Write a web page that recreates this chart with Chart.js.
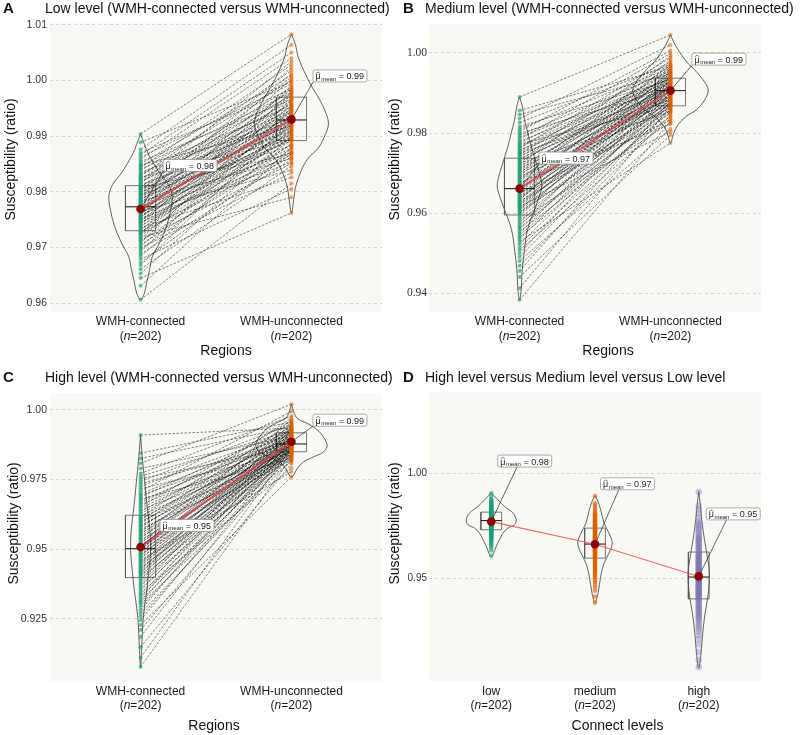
<!DOCTYPE html>
<html>
<head>
<meta charset="utf-8">
<script src="https://cdn.jsdelivr.net/npm/chart.js@4.4.0/dist/chart.umd.min.js"></script>
<style>
  body { margin: 0; background: #fff; }
  #wrap { position: relative; width: 800px; height: 735px; }
  canvas { position: absolute; }
</style>
</head>
<body>
<div id="wrap">
  <canvas id="cA" width="400" height="367" style="left:0;top:0"></canvas>
  <canvas id="cB" width="420" height="367" style="left:380px;top:0"></canvas>
  <canvas id="cC" width="400" height="368" style="left:0;top:367px"></canvas>
  <canvas id="cD" width="420" height="368" style="left:380px;top:367px"></canvas>
</div>
<script>
  // категории
  var regionCats = ['WMH-connected', 'WMH-unconnected'];
  var levelCats = ['low', 'medium', 'high'];
  var nPerGroup = 202;

  // low level: connected / unconnected (paired)
  var lowConn = [
    0.9606, 0.9631, 0.9645, 0.9653, 0.9661, 0.9668, 0.9673, 0.9679, 0.9684, 0.9688,
    0.9692, 0.9696, 0.9699, 0.9702, 0.9705, 0.9708, 0.9711, 0.9713, 0.9716, 0.9718,
    0.9721, 0.9723, 0.9725, 0.9727, 0.9729, 0.9731, 0.9733, 0.9735, 0.9737, 0.9739,
    0.9741, 0.9743, 0.9745, 0.9747, 0.9748, 0.9750, 0.9752, 0.9753, 0.9755, 0.9756,
    0.9758, 0.9759, 0.9761, 0.9762, 0.9764, 0.9765, 0.9767, 0.9768, 0.9770, 0.9772,
    0.9774, 0.9776, 0.9777, 0.9779, 0.9780, 0.9782, 0.9783, 0.9785, 0.9786, 0.9788,
    0.9789, 0.9791, 0.9792, 0.9794, 0.9795, 0.9797, 0.9798, 0.9800, 0.9801, 0.9803,
    0.9804, 0.9806, 0.9807, 0.9809, 0.9810, 0.9813, 0.9815, 0.9817, 0.9820, 0.9822,
    0.9824, 0.9826, 0.9828, 0.9830, 0.9832, 0.9835, 0.9838, 0.9841, 0.9843, 0.9846,
    0.9848, 0.9850, 0.9854, 0.9858, 0.9862, 0.9866, 0.9870, 0.9876, 0.9889, 0.9904
  ];
  var lowUnconn = [
    0.9815, 0.9880, 0.9762, 0.9901, 0.9846, 0.9928, 0.9869, 0.9805, 0.9912, 0.9858,
    0.9950, 0.9887, 0.9834, 0.9921, 0.9872, 0.9966, 0.9893, 0.9851, 0.9938, 0.9790,
    0.9904, 0.9980, 0.9876, 0.9917, 0.9862, 0.9945, 0.9898, 0.9826, 0.9930, 0.9884,
    0.9991, 0.9908, 0.9866, 0.9955, 0.9895, 0.9924, 0.9853, 0.9974, 0.9910, 0.9940,
    0.9878, 1.0003, 0.9919, 0.9896, 0.9961, 0.9839, 0.9934, 0.9905, 0.9986, 0.9926,
    0.9871, 0.9948, 0.9913, 1.0013, 0.9899, 0.9937, 0.9860, 0.9969, 0.9923, 0.9891,
    0.9952, 1.0023, 0.9915, 0.9942, 0.9883, 0.9976, 0.9930, 0.9902, 0.9958, 1.0006,
    0.9920, 0.9944, 0.9868, 0.9982, 0.9935, 0.9909, 1.0034, 0.9963, 0.9927, 0.9988,
    0.9947, 0.9894, 1.0018, 0.9957, 0.9972, 0.9932, 1.0000, 0.9953, 1.0028, 0.9978,
    0.9918, 1.0009, 0.9966, 1.0040, 0.9994, 1.0050, 0.9984, 1.0064, 0.9997, 1.0083
  ];

  // medium level
  var medConn = [
    0.9383, 0.9412, 0.9440, 0.9455, 0.9468, 0.9480, 0.9490, 0.9499, 0.9507, 0.9514,
    0.9522, 0.9528, 0.9534, 0.9539, 0.9544, 0.9549, 0.9554, 0.9559, 0.9563, 0.9567,
    0.9572, 0.9577, 0.9582, 0.9587, 0.9592, 0.9598, 0.9600, 0.9603, 0.9606, 0.9608,
    0.9611, 0.9614, 0.9616, 0.9619, 0.9621, 0.9624, 0.9627, 0.9629, 0.9632, 0.9635,
    0.9637, 0.9640, 0.9642, 0.9645, 0.9648, 0.9650, 0.9653, 0.9655, 0.9658, 0.9660,
    0.9664, 0.9667, 0.9670, 0.9673, 0.9676, 0.9679, 0.9682, 0.9685, 0.9688, 0.9691,
    0.9694, 0.9697, 0.9700, 0.9703, 0.9706, 0.9709, 0.9712, 0.9715, 0.9718, 0.9721,
    0.9724, 0.9727, 0.9730, 0.9733, 0.9736, 0.9740, 0.9743, 0.9746, 0.9749, 0.9752,
    0.9755, 0.9758, 0.9762, 0.9765, 0.9768, 0.9772, 0.9775, 0.9779, 0.9784, 0.9789,
    0.9794, 0.9799, 0.9804, 0.9810, 0.9816, 0.9826, 0.9836, 0.9846, 0.9856, 0.9890
  ];
  var medUnconn = [
    0.9828, 0.9866, 0.9795, 0.9880, 0.9845, 0.9810, 0.9872, 0.9901, 0.9836, 0.9858,
    0.9889, 0.9775, 0.9912, 0.9852, 0.9877, 0.9924, 0.9842, 0.9895, 0.9869, 0.9934,
    0.9860, 0.9907, 0.9826, 0.9884, 0.9945, 0.9874, 0.9917, 0.9850, 0.9898, 0.9957,
    0.9881, 0.9921, 0.9803, 0.9904, 0.9939, 0.9871, 0.9913, 0.9856, 0.9966, 0.9893,
    0.9927, 0.9864, 0.9908, 0.9949, 0.9887, 0.9833, 0.9918, 0.9975, 0.9896, 0.9930,
    0.9875, 0.9914, 0.9953, 0.9899, 0.9822, 0.9928, 0.9983, 0.9890, 0.9919, 0.9862,
    0.9941, 0.9905, 0.9969, 0.9878, 0.9922, 0.9947, 0.9886, 0.9931, 0.9909, 0.9993,
    0.9854, 0.9935, 0.9916, 0.9958, 0.9892, 0.9943, 0.9911, 0.9978, 0.9883, 0.9926,
    0.9951, 0.9902, 0.9988, 0.9923, 0.9937, 0.9867, 0.9960, 0.9929, 0.9999, 0.9936,
    0.9955, 0.9910, 1.0006, 0.9963, 0.9933, 0.9972, 1.0020, 0.9948, 0.9966, 1.0045
  ];

  // high level
  var highConn = [
    0.9077, 0.9110, 0.9148, 0.9185, 0.9210, 0.9228, 0.9245, 0.9258, 0.9270, 0.9281,
    0.9292, 0.9302, 0.9309, 0.9316, 0.9323, 0.9330, 0.9337, 0.9344, 0.9351, 0.9358,
    0.9365, 0.9372, 0.9379, 0.9386, 0.9393, 0.9400, 0.9404, 0.9408, 0.9413, 0.9417,
    0.9421, 0.9426, 0.9430, 0.9434, 0.9439, 0.9443, 0.9447, 0.9452, 0.9456, 0.9460,
    0.9465, 0.9469, 0.9473, 0.9478, 0.9482, 0.9486, 0.9491, 0.9495, 0.9498, 0.9501,
    0.9505, 0.9510, 0.9515, 0.9520, 0.9524, 0.9529, 0.9534, 0.9539, 0.9543, 0.9548,
    0.9553, 0.9558, 0.9563, 0.9567, 0.9572, 0.9577, 0.9582, 0.9586, 0.9591, 0.9596,
    0.9601, 0.9606, 0.9610, 0.9615, 0.9620, 0.9628, 0.9635, 0.9641, 0.9648, 0.9654,
    0.9661, 0.9667, 0.9674, 0.9680, 0.9687, 0.9693, 0.9699, 0.9708, 0.9717, 0.9726,
    0.9735, 0.9744, 0.9753, 0.9762, 0.9772, 0.9790, 0.9808, 0.9826, 0.9845, 0.9910
  ];
  var highUnconn = [
    0.9829, 0.9866, 0.9807, 0.9881, 0.9846, 0.9760, 0.9894, 0.9857, 0.9835, 0.9910,
    0.9869, 0.9818, 0.9887, 0.9852, 0.9925, 0.9841, 0.9874, 0.9792, 0.9898, 0.9860,
    0.9933, 0.9838, 0.9879, 0.9905, 0.9853, 0.9815, 0.9889, 0.9863, 0.9942, 0.9844,
    0.9884, 0.9913, 0.9856, 0.9827, 0.9895, 0.9867, 0.9928, 0.9848, 0.9877, 0.9778,
    0.9903, 0.9861, 0.9951, 0.9882, 0.9836, 0.9916, 0.9870, 0.9854, 0.9936, 0.9890,
    0.9843, 0.9906, 0.9872, 0.9965, 0.9858, 0.9897, 0.9821, 0.9922, 0.9868, 0.9886,
    0.9945, 0.9849, 0.9911, 0.9875, 0.9831, 0.9930, 0.9892, 0.9862, 0.9954, 0.9900,
    0.9840, 0.9917, 0.9879, 0.9971, 0.9864, 0.9908, 0.9933, 0.9851, 0.9895, 0.9960,
    0.9871, 0.9920, 0.9902, 0.9824, 0.9938, 0.9885, 0.9914, 0.9995, 0.9847, 0.9923,
    0.9889, 0.9948, 0.9866, 0.9927, 0.9978, 0.9906, 1.0021, 0.9939, 0.9957, 0.9935
  ];

  // средние
  var lowMeans = [0.9769, 0.9930];
  var medMeans = [0.9661, 0.9906];
  var highMeans = [0.9508, 0.9886];
  var levelMeans = [0.9769, 0.9661, 0.9508];

  // boxplot: [q1, median, q3]
  var lowBoxes = [[0.9730, 0.9773, 0.9811], [0.9892, 0.9929, 0.9970]];
  var medBoxes = [[0.9595, 0.9661, 0.9737], [0.9868, 0.9906, 0.9937]];
  var highBoxes = [[0.9398, 0.9502, 0.9622], [0.9850, 0.9878, 0.9918]];
  var levelBoxes = [[0.9730, 0.9774, 0.9814], [0.9595, 0.9662, 0.9738], [0.9401, 0.9505, 0.9624]];

  // violin outlines: value (top -> bottom) and half width (category units)
  var lowConnVioY = [0.9904, 0.9885, 0.9867, 0.9834, 0.9813, 0.9792, 0.9768, 0.9738, 0.9708, 0.9684, 0.9660, 0.9636, 0.9618, 0.9606];
  var lowConnVioW = [0, 0.026, 0.053, 0.126, 0.185, 0.21, 0.2, 0.172, 0.126, 0.079, 0.06, 0.04, 0.026, 0];
  var lowUnconnVioY = [1.0083, 1.0065, 1.0041, 1.0011, 0.9987, 0.9963, 0.9939, 0.9921, 0.9903, 0.9879, 0.9861, 0.9843, 0.9825, 0.9807, 0.9790, 0.9762];
  var lowUnconnVioW = [0, 0.026, 0.046, 0.093, 0.139, 0.192, 0.232, 0.245, 0.225, 0.179, 0.113, 0.073, 0.046, 0.026, 0.017, 0];
  var medConnVioY = [0.9890, 0.9867, 0.9833, 0.9800, 0.9767, 0.9725, 0.9692, 0.9667, 0.9642, 0.9608, 0.9575, 0.9542, 0.9508, 0.9475, 0.9442, 0.9408, 0.9383];
  var medConnVioW = [0, 0.018, 0.033, 0.055, 0.077, 0.111, 0.137, 0.148, 0.132, 0.099, 0.066, 0.044, 0.033, 0.022, 0.015, 0.011, 0];
  var medUnconnVioY = [1.0045, 1.0025, 1.0008, 0.9978, 0.9962, 0.9933, 0.9908, 0.9883, 0.9858, 0.9842, 0.9821, 0.9800, 0.9775];
  var medUnconnVioW = [0, 0.025, 0.051, 0.106, 0.15, 0.216, 0.25, 0.227, 0.172, 0.106, 0.051, 0.022, 0];
  var highConnVioY = [0.9910, 0.9832, 0.9772, 0.9712, 0.9652, 0.9568, 0.9496, 0.9424, 0.9364, 0.9292, 0.9233, 0.9161, 0.9077];
  var highConnVioW = [0, 0.011, 0.022, 0.033, 0.044, 0.062, 0.066, 0.055, 0.044, 0.026, 0.015, 0.009, 0];
  var highUnconnVioY = [1.0021, 0.9994, 0.9970, 0.9952, 0.9934, 0.9910, 0.9874, 0.9850, 0.9832, 0.9814, 0.9790, 0.9766, 0.9760];
  var highUnconnVioW = [0, 0.015, 0.038, 0.104, 0.159, 0.203, 0.236, 0.214, 0.148, 0.081, 0.038, 0.015, 0];
  var levelLowVioY = [0.9905, 0.9873, 0.9841, 0.9810, 0.9778, 0.9754, 0.9738, 0.9714, 0.9683, 0.9651, 0.9611, 0.9603];
  var levelLowVioW = [0, 0.064, 0.128, 0.209, 0.24, 0.224, 0.161, 0.113, 0.08, 0.048, 0.016, 0];
  var levelMedVioY = [0.9892, 0.9873, 0.9825, 0.9762, 0.9714, 0.9667, 0.9619, 0.9571, 0.9508, 0.9429, 0.9384];
  var levelMedVioW = [0, 0.022, 0.055, 0.087, 0.135, 0.166, 0.135, 0.087, 0.055, 0.029, 0];
  var levelHighVioY = [0.9913, 0.9857, 0.9778, 0.9683, 0.9587, 0.9524, 0.9429, 0.9333, 0.9238, 0.9143, 0.9071];
  var levelHighVioW = [0, 0.013, 0.029, 0.055, 0.087, 0.103, 0.093, 0.061, 0.038, 0.022, 0];

  // ticks
  var lowTicks = [0.96, 0.97, 0.98, 0.99, 1.00, 1.01];
  var lowTickLabels = ['0.96', '0.97', '0.98', '0.99', '1.00', '1.01'];
  var medTicks = [0.94, 0.96, 0.98, 1.00];
  var medTickLabels = ['0.94', '0.96', '0.98', '1.00'];
  var highTicks = [0.925, 0.95, 0.975, 1.00];
  var highTickLabels = ['0.925', '0.95', '0.975', '1.00'];
  var levelTicks = [0.95, 1.00];
  var levelTickLabels = ['0.95', '1.00'];

  var SANS = '"Liberation Sans", Arial, Helvetica, sans-serif';
  var SERIF = '"Liberation Serif", "Times New Roman", serif';
  var GREEN = 'rgba(27,158,119,0.6)';
  var ORANGE = 'rgba(217,95,2,0.55)';
  var PURPLE = 'rgba(117,112,179,0.35)';

  var panelSpecs = {};

  function violinPoints(c, ys, ws) {
    var pts = [];
    for (var i = 0; i < ys.length; i++) pts.push({ x: c + ws[i], y: ys[i] });
    for (var j = ys.length - 2; j >= 0; j--) pts.push({ x: c - ws[j], y: ys[j] });
    return pts;
  }

  function pairPoints(a, b) {
    var pts = [];
    for (var i = 0; i < a.length; i++) {
      pts.push({ x: 1, y: a[i] }, { x: 2, y: b[i] }, { x: 1.5, y: null });
    }
    return pts;
  }

  function drawN(ctx, cx, y, n) {
    var a = '(', b = 'n', c = '=' + n + ')';
    ctx.font = '12px ' + SANS;
    var wa = ctx.measureText(a).width, wc = ctx.measureText(c).width;
    ctx.font = 'italic 12px ' + SANS;
    var wb = ctx.measureText(b).width;
    var x0 = cx - (wa + wb + wc) / 2;
    ctx.textAlign = 'left';
    ctx.font = '12px ' + SANS;
    ctx.fillText(a, x0, y);
    ctx.font = 'italic 12px ' + SANS;
    ctx.fillText(b, x0 + wa, y);
    ctx.font = '12px ' + SANS;
    ctx.fillText(c, x0 + wa + wb, y);
  }

  function drawMeanLabel(ctx, px, py, m, pos) {
    var t1 = 'μ', t2 = 'mean', t3 = ' = ' + m.toFixed(2);
    ctx.font = '9px ' + SANS;
    var w1 = ctx.measureText(t1).width, w3 = ctx.measureText(t3).width;
    ctx.font = '6px ' + SANS;
    var w2 = ctx.measureText(t2).width;
    var bw = w1 + w2 + w3 + 6, bh = 12;
    var bx = px + pos.dx, by = py + pos.dy;
    // линия к точке
    var ax = bx + pos.ax, ay = by + bh;
    var dx = px - ax, dy = py - ay, len = Math.sqrt(dx * dx + dy * dy);
    ctx.save();
    ctx.strokeStyle = '#222';
    ctx.lineWidth = 0.7;
    ctx.beginPath();
    ctx.moveTo(ax, ay);
    ctx.lineTo(px - dx / len * 3.5, py - dy / len * 3.5);
    ctx.stroke();
    ctx.fillStyle = '#fff';
    ctx.strokeStyle = '#8a8a8a';
    ctx.lineWidth = 0.7;
    ctx.beginPath();
    if (ctx.roundRect) ctx.roundRect(bx + 0.5, by + 0.5, bw, bh, 2);
    else ctx.rect(bx + 0.5, by + 0.5, bw, bh);
    ctx.fill();
    ctx.stroke();
    ctx.fillStyle = '#222';
    ctx.textAlign = 'left';
    ctx.textBaseline = 'alphabetic';
    ctx.font = '9px ' + SANS;
    ctx.fillText(t1, bx + 3, by + 10);
    // шляпка над μ
    ctx.strokeStyle = '#333';
    ctx.lineWidth = 0.6;
    ctx.beginPath();
    ctx.moveTo(bx + 3.3, by + 4.2);
    ctx.lineTo(bx + 3 + w1 / 2, by + 2.6);
    ctx.lineTo(bx + 2.7 + w1, by + 4.2);
    ctx.stroke();
    ctx.font = '6px ' + SANS;
    ctx.fillText(t2, bx + 3.5 + w1, by + 11.5);
    ctx.font = '9px ' + SANS;
    ctx.fillText(t3, bx + 3.5 + w1 + w2, by + 10);
    ctx.restore();
  }

  var panelDecor = {
    id: 'panelDecor',
    beforeDraw: function (chart) {
      var a = chart.chartArea, ctx = chart.ctx;
      ctx.save();
      ctx.fillStyle = '#f9f8f3';
      ctx.fillRect(a.left, a.top, a.right - a.left, a.bottom - a.top);
      ctx.restore();
    },
    afterDatasetsDraw: function (chart) {
      var p = panelSpecs[chart.canvas.id];
      if (!p) return;
      var xs = chart.scales.x, ys = chart.scales.y;
      for (var i = 0; i < p.means.length; i++) {
        drawMeanLabel(chart.ctx, xs.getPixelForValue(i + 1), ys.getPixelForValue(p.means[i]), p.means[i], p.labelPos[i]);
      }
    },
    afterDraw: function (chart) {
      var p = panelSpecs[chart.canvas.id];
      if (!p) return;
      var ctx = chart.ctx, xs = chart.scales.x;
      ctx.save();
      ctx.fillStyle = '#111';
      ctx.textBaseline = 'middle';
      ctx.textAlign = 'left';
      ctx.font = 'bold 15px ' + SANS;
      ctx.fillText(p.letter, p.letterX, p.titleY);
      ctx.font = '14px ' + SANS;
      ctx.fillText(p.title, p.titleX, p.titleY);
      // y title
      ctx.save();
      ctx.translate(p.yTitleX, p.yTitleY);
      ctx.rotate(-Math.PI / 2);
      ctx.textAlign = 'center';
      ctx.fillText('Susceptibility (ratio)', 0, 0);
      ctx.restore();
      // категории
      ctx.fillStyle = '#1a1a1a';
      for (var i = 0; i < p.cats.length; i++) {
        var px = xs.getPixelForValue(i + 1);
        ctx.font = '12px ' + SANS;
        ctx.textAlign = 'center';
        ctx.fillText(p.cats[i], px, p.catY1);
        drawN(ctx, px, p.catY2, nPerGroup);
      }
      ctx.fillStyle = '#111';
      ctx.font = '14px ' + SANS;
      ctx.textAlign = 'center';
      ctx.fillText(p.xTitle, p.xTitleX, p.xTitleY);
      ctx.restore();
    }
  };
  Chart.register(panelDecor);

  function makePanel(id, p) {
    panelSpecs[id] = p;
    var ds = [];
    var boxHalf = p.boxHalf;
    for (var i = 0; i < p.cats.length; i++) {
      var c = i + 1;
      ds.push({
        data: violinPoints(c, p.vioY[i], p.vioW[i]),
        showLine: true, borderColor: '#1f1f1f', borderWidth: 0.7,
        pointRadius: 0, tension: 0.35, fill: false, order: 60
      });
      var b = p.boxes[i];
      ds.push({
        data: [
          { x: c - boxHalf, y: b[0] }, { x: c + boxHalf, y: b[0] },
          { x: c + boxHalf, y: b[2] }, { x: c - boxHalf, y: b[2] }, { x: c - boxHalf, y: b[0] }
        ],
        showLine: true, borderColor: '#555', borderWidth: 0.8,
        pointRadius: 0, tension: 0, fill: false, order: 55
      });
      ds.push({
        data: [{ x: c - boxHalf, y: b[1] }, { x: c + boxHalf, y: b[1] }],
        showLine: true, borderColor: '#222', borderWidth: 1.1,
        pointRadius: 0, order: 54
      });
      ds.push({
        data: p.groups[i].map(function (v) { return { x: c, y: v }; }),
        showLine: false, pointRadius: p.dotRadius[i], pointBorderWidth: 0,
        pointBackgroundColor: p.dotColors[i], order: 30
      });
    }
    if (p.pairs) {
      ds.push({
        data: pairPoints(p.groups[0], p.groups[1]),
        showLine: true, spanGaps: false, borderColor: 'rgba(0,0,0,0.8)',
        borderWidth: 0.6, borderDash: [2.5, 1.5], pointRadius: 0, order: 40
      });
    }
    var meanPts = p.means.map(function (m, k) { return { x: k + 1, y: m }; });
    ds.push({
      data: meanPts, showLine: true, borderColor: p.meanLineColor,
      borderWidth: p.meanLineWidth, pointRadius: 0, order: 20
    });
    ds.push({
      data: meanPts, showLine: false, pointRadius: 4.3,
      pointBackgroundColor: '#8b0000', pointBorderColor: '#8b0000', pointBorderWidth: 0, order: 10
    });

    return new Chart(document.getElementById(id), {
      type: 'scatter',
      data: { datasets: ds },
      options: {
        animation: false,
        responsive: false,
        devicePixelRatio: 1,
        layout: { padding: p.pad },
        plugins: { legend: { display: false }, tooltip: { enabled: false } },
        scales: {
          x: { type: 'linear', display: false, min: p.xMin, max: p.xMax },
          y: {
            type: 'linear', min: p.yMin, max: p.yMax,
            afterBuildTicks: function (s) {
              s.ticks = p.ticks.map(function (v) { return { value: v }; });
            },
            afterFit: function (s) { s.width = p.yWidth; },
            ticks: {
              padding: p.tickPad, autoSkip: false, color: '#333', font: p.tickFont,
              callback: function (v, idx) { return p.tickLabels[idx]; }
            },
            grid: { color: '#c9c9c9', lineWidth: 0.8, drawTicks: false },
            border: { display: false, dash: [3, 3] }
          }
        }
      }
    });
  }

  var sansTick = { family: SANS, size: 10.5 };

  makePanel('cA', {
    letter: 'A', letterX: 3, title: 'Low level (WMH-connected versus WMH-unconnected)',
    titleX: 45, titleY: 9, yTitleX: 11, yTitleY: 159.5,
    cats: regionCats, catY1: 322, catY2: 337, xTitle: 'Regions', xTitleX: 226, xTitleY: 351,
    groups: [lowConn, lowUnconn], pairs: true, means: lowMeans, boxes: lowBoxes,
    vioY: [lowConnVioY, lowUnconnVioY], vioW: [lowConnVioW, lowUnconnVioW],
    dotColors: [GREEN, ORANGE], dotRadius: [2, 2],
    meanLineColor: 'rgba(212,70,70,0.75)', meanLineWidth: 2.2,
    labelPos: [{ dx: 22, dy: -50, ax: 1 }, { dx: 21, dy: -50, ax: 1 }],
    ticks: lowTicks, tickLabels: lowTickLabels, tickFont: sansTick, tickPad: 3,
    xMin: 0.4, xMax: 2.6, yMin: 0.9584, yMax: 1.0105, boxHalf: 0.1,
    pad: { left: 0, right: 18, top: 22, bottom: 55 }, yWidth: 50
  });

  makePanel('cB', {
    letter: 'B', letterX: 23, title: 'Medium level (WMH-connected versus WMH-unconnected)',
    titleX: 45, titleY: 9, yTitleX: 15, yTitleY: 159.5,
    cats: regionCats, catY1: 322, catY2: 337, xTitle: 'Regions', xTitleX: 228, xTitleY: 351,
    groups: [medConn, medUnconn], pairs: true, means: medMeans, boxes: medBoxes,
    vioY: [medConnVioY, medUnconnVioY], vioW: [medConnVioW, medUnconnVioW],
    dotColors: [GREEN, ORANGE], dotRadius: [2, 2],
    meanLineColor: 'rgba(212,70,70,0.75)', meanLineWidth: 2.2,
    labelPos: [{ dx: 19, dy: -37, ax: 1 }, { dx: 21, dy: -38, ax: 1 }],
    ticks: medTicks, tickLabels: medTickLabels, tickFont: { family: SERIF, size: 11.5 }, tickPad: 2,
    xMin: 0.4, xMax: 2.6, yMin: 0.93525, yMax: 1.00725, boxHalf: 0.1,
    pad: { left: 0, right: 39, top: 24, bottom: 55 }, yWidth: 49
  });

  makePanel('cC', {
    letter: 'C', letterX: 3, title: 'High level (WMH-connected versus WMH-unconnected)',
    titleX: 45, titleY: 11, yTitleX: 14, yTitleY: 156.5,
    cats: regionCats, catY1: 324.5, catY2: 338.5, xTitle: 'Regions', xTitleX: 214, xTitleY: 359,
    groups: [highConn, highUnconn], pairs: true, means: highMeans, boxes: highBoxes,
    vioY: [highConnVioY, highUnconnVioY], vioW: [highConnVioW, highUnconnVioW],
    dotColors: [GREEN, ORANGE], dotRadius: [2, 2],
    meanLineColor: 'rgba(212,70,70,0.75)', meanLineWidth: 2.2,
    labelPos: [{ dx: 19, dy: -28, ax: 1 }, { dx: 21, dy: -28, ax: 1 }],
    ticks: highTicks, tickLabels: highTickLabels, tickFont: sansTick, tickPad: 3,
    xMin: 0.4, xMax: 2.6, yMin: 0.9023, yMax: 1.0061, boxHalf: 0.1,
    pad: { left: 0, right: 18, top: 26, bottom: 53 }, yWidth: 50
  });

  makePanel('cD', {
    letter: 'D', letterX: 23, title: 'High level versus Medium level versus Low level',
    titleX: 45, titleY: 11, yTitleX: 15, yTitleY: 156.5,
    cats: levelCats, catY1: 324.5, catY2: 338.5, xTitle: 'Connect levels', xTitleX: 237.5, xTitleY: 359,
    groups: [lowConn, medConn, highConn], pairs: false, means: levelMeans, boxes: levelBoxes,
    vioY: [levelLowVioY, levelMedVioY, levelHighVioY], vioW: [levelLowVioW, levelMedVioW, levelHighVioW],
    dotColors: ['rgba(27,158,119,0.6)', 'rgba(217,95,2,0.6)', PURPLE], dotRadius: [2.3, 2.3, 3.3],
    meanLineColor: 'rgba(235,90,90,0.9)', meanLineWidth: 1.1,
    labelPos: [{ dx: 6, dy: -67, ax: 20 }, { dx: 5, dy: -67, ax: 19 }, { dx: 7, dy: -69, ax: 21 }],
    ticks: levelTicks, tickLabels: levelTickLabels, tickFont: { family: SANS, size: 10 }, tickPad: 2,
    xMin: 0.4, xMax: 3.6, yMin: 0.901, yMax: 1.0386, boxHalf: 0.1,
    pad: { left: 0, right: 39, top: 25, bottom: 54 }, yWidth: 49
  });
</script>
</body>
</html>
